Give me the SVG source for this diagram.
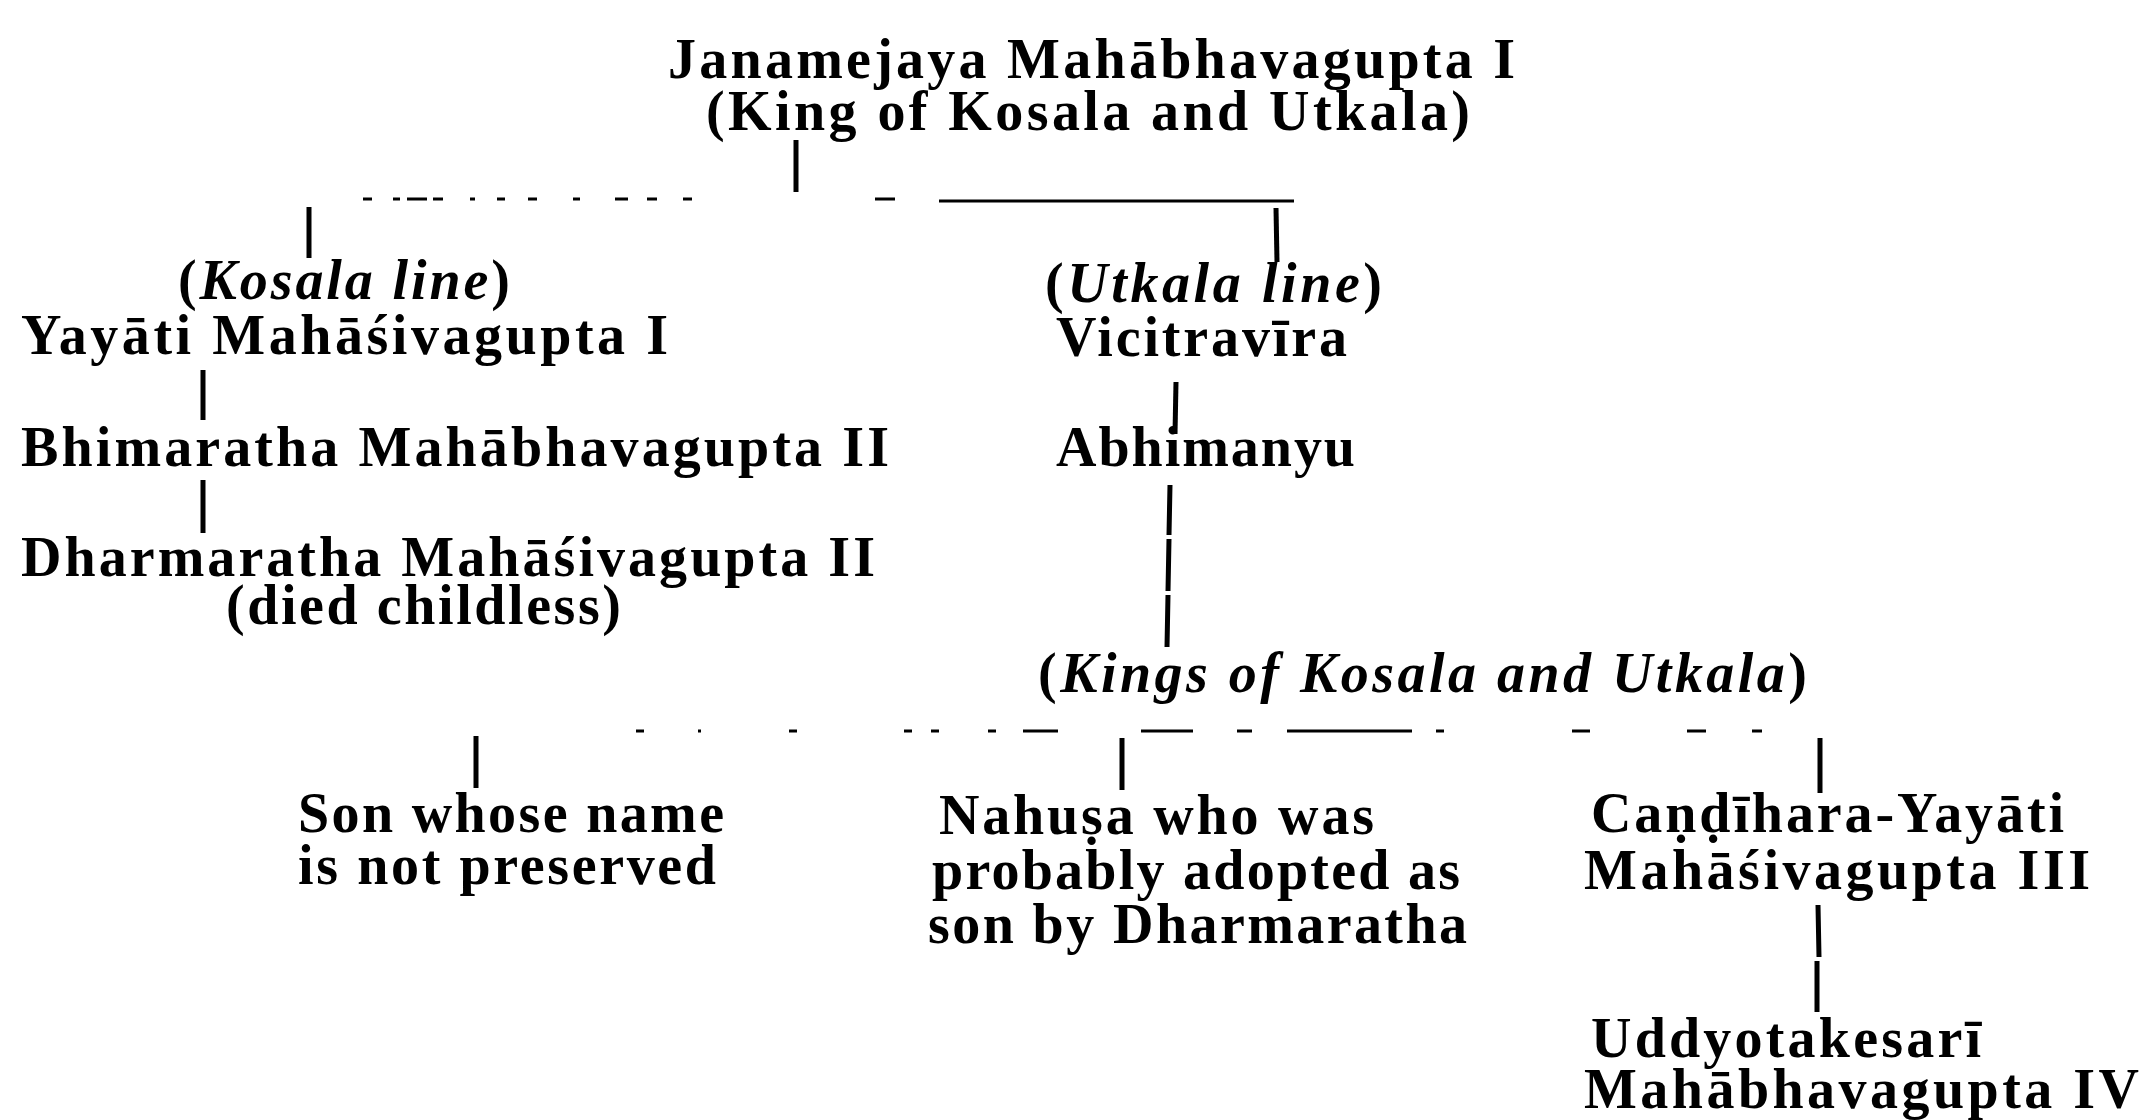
<svg xmlns="http://www.w3.org/2000/svg" width="2150" height="1120" viewBox="0 0 2150 1120">
<style>
.t{font-family:"Liberation Serif","DejaVu Serif",serif;font-weight:bold;font-size:56px;fill:#000}
.i{font-style:italic}
.c{stroke:#000;fill:none;stroke-linecap:butt}
.v{stroke-width:5}
.h{stroke-width:3}
</style>
<rect width="2150" height="1120" fill="#fff"/>
<g id="connectors">
<line class="c v" x1="796" y1="140" x2="796" y2="192"/>
<path class="c h" d="M363 199H372M393 199H400M407 199H427M433 199H443M470 199H475M497 199H505M528 199H537M573 199H580M615 199H628M647 199H657M683 199H692M875 199H895"/>
<line class="c h" x1="939" y1="201" x2="1294" y2="201"/>
<line class="c v" x1="309" y1="207" x2="309" y2="258"/>
<line class="c v" x1="1276" y1="208" x2="1277" y2="262"/>
<line class="c v" x1="203" y1="370" x2="203" y2="420"/>
<line class="c v" x1="203" y1="480" x2="203" y2="533"/>
<line class="c v" x1="1176" y1="382" x2="1175" y2="434"/>
<path class="c v" d="M1170 485L1169 535M1169 539L1168 591M1168 595L1167 647"/>
<path class="c h" d="M636 731H644M698 731H701M789 731H797M904 731H912M931 731H939M988 731H996M1023 731H1058M1141 731H1193M1237 731H1252M1287 731H1412M1436 731H1444M1572 731H1590M1687 731H1706M1752 731H1762"/>
<line class="c v" x1="476" y1="736" x2="476" y2="788"/>
<line class="c v" x1="1122" y1="738" x2="1122" y2="790"/>
<line class="c v" x1="1820" y1="738" x2="1820" y2="793"/>
<path class="c v" d="M1818 905L1819 957M1817 961L1817 1012"/>
</g>
<g id="janamejaya">
<text class="t" x="668" y="78" textLength="847" lengthAdjust="spacing">Janamejaya Mahābhavagupta I</text>
<text class="t" x="706" y="130" textLength="764" lengthAdjust="spacing">(King of Kosala and Utkala)</text>
</g>
<g id="kosala-line">
<text class="t" x="178" y="299" textLength="332" lengthAdjust="spacing">(<tspan class="i">Kosala line</tspan>)</text>
</g>
<g id="yayati">
<text class="t" x="21" y="354" textLength="647" lengthAdjust="spacing">Yayāti Mahāśivagupta I</text>
</g>
<g id="bhimaratha">
<text class="t" x="21" y="466" textLength="868" lengthAdjust="spacing">Bhimaratha Mahābhavagupta II</text>
</g>
<g id="dharmaratha">
<text class="t" x="21" y="576" textLength="854" lengthAdjust="spacing">Dharmaratha Mahāśivagupta II</text>
<text class="t" x="226" y="624" textLength="395" lengthAdjust="spacing">(died childless)</text>
</g>
<g id="utkala-line">
<text class="t" x="1045" y="302" textLength="337" lengthAdjust="spacing">(<tspan class="i">Utkala line</tspan>)</text>
</g>
<g id="vicitravira">
<text class="t" x="1056" y="356" textLength="291" lengthAdjust="spacing">Vicitravīra</text>
</g>
<g id="abhimanyu">
<text class="t" x="1056" y="466" textLength="299" lengthAdjust="spacing">Abhimanyu</text>
</g>
<g id="kings">
<text class="t" x="1038" y="692" textLength="769" lengthAdjust="spacing">(<tspan class="i">Kings of Kosala and Utkala</tspan>)</text>
</g>
<g id="son">
<text class="t" x="298" y="832" textLength="426" lengthAdjust="spacing">Son whose name</text>
<text class="t" x="298" y="884" textLength="418" lengthAdjust="spacing">is not preserved</text>
</g>
<g id="nahusa">
<text class="t" x="939" y="834" textLength="435" lengthAdjust="spacing">Nahuṣa who was</text>
<text class="t" x="932" y="889" textLength="528" lengthAdjust="spacing">probably adopted as</text>
<text class="t" x="928" y="943" textLength="539" lengthAdjust="spacing">son by Dharmaratha</text>
</g>
<g id="candihara">
<text class="t" x="1591" y="832" textLength="473" lengthAdjust="spacing">Caṇḍīhara-Yayāti</text>
<text class="t" x="1584" y="889" textLength="506" lengthAdjust="spacing">Mahāśivagupta III</text>
</g>
<g id="uddyotakesari">
<text class="t" x="1591" y="1057" textLength="390" lengthAdjust="spacing">Uddyotakesarī</text>
<text class="t" x="1584" y="1108" textLength="555" lengthAdjust="spacing">Mahābhavagupta IV</text>
</g>
</svg>
